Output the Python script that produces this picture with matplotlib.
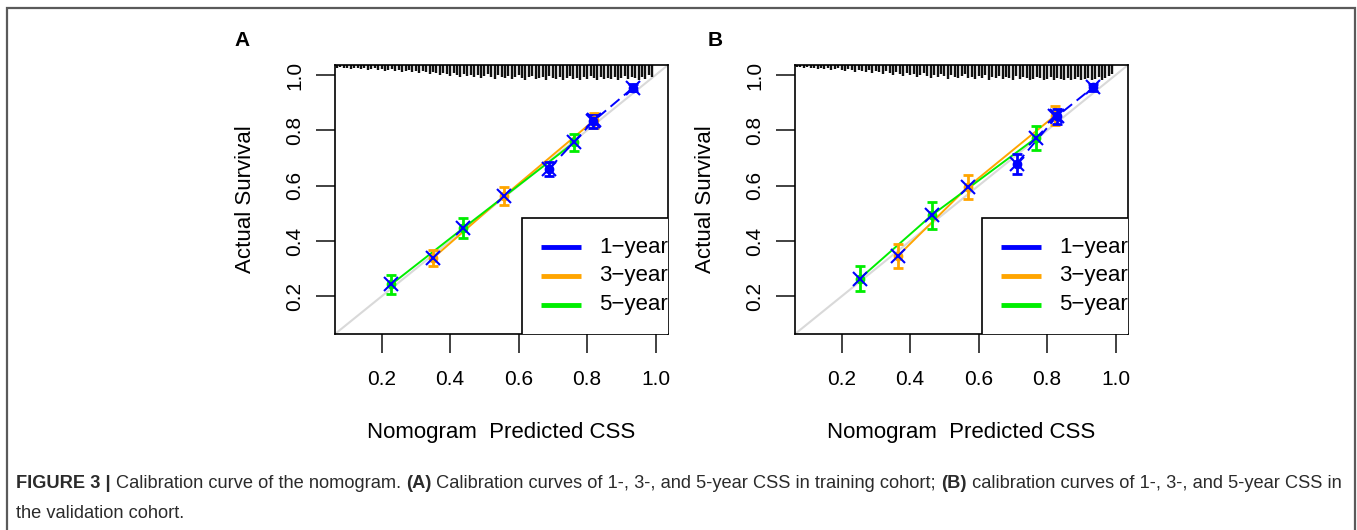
import matplotlib
matplotlib.use("Agg")
import matplotlib.pyplot as plt
import matplotlib.patches as patches
import numpy as np

plt.rcParams['font.family'] = ['Liberation Sans', 'DejaVu Sans']

W, H = 1357, 530

# ---- data ----
# panel A (training cohort)
a_1yr_x = [0.689, 0.817, 0.934]
a_1yr_y = [0.661, 0.832, 0.954]
a_1yr_err = [0.026, 0.024, 0.012]
a_3yr_x = [0.350, 0.558, 0.820]
a_3yr_y = [0.338, 0.563, 0.836]
a_3yr_err = [0.030, 0.033, 0.026]
a_5yr_x = [0.228, 0.439, 0.762]
a_5yr_y = [0.243, 0.447, 0.756]
a_5yr_err = [0.033, 0.037, 0.029]

# panel B (validation cohort)
b_1yr_x = [0.711, 0.828, 0.934]
b_1yr_y = [0.679, 0.850, 0.955]
b_1yr_err = [0.036, 0.028, 0.012]
b_3yr_x = [0.365, 0.568, 0.823]
b_3yr_y = [0.347, 0.595, 0.853]
b_3yr_err = [0.043, 0.045, 0.035]
b_5yr_x = [0.253, 0.463, 0.767]
b_5yr_y = [0.264, 0.493, 0.772]
b_5yr_err = [0.045, 0.049, 0.042]

# rug of predicted values along the top (tick lengths, px), bins 0.07 .. 0.99
a_rug = [3, 2, 3, 3, 4, 3, 3, 4, 3, 5,
         4, 3, 5, 4, 6, 5, 4, 6, 5, 7,
         6, 5, 7, 6, 8, 6, 7, 9, 7, 8,
         10, 8, 9, 11, 8, 10, 12, 9, 11, 10,
         12, 10, 13, 11, 9, 12, 14, 10, 12, 13,
         11, 14, 12, 10, 13, 15, 12, 11, 14, 13,
         12, 15, 11, 13, 14, 12, 15, 13, 11, 14,
         13, 15, 12, 14, 11, 13, 15, 12, 14, 13,
         14, 12, 15, 13, 11, 14, 12, 13, 15, 12,
         14, 10, 12]
b_rug = [2, 2, 3, 2, 3, 3, 4, 3, 4, 3,
         5, 4, 3, 5, 6, 4, 5, 7, 5, 6,
         7, 5, 8, 6, 7, 9, 6, 8, 10, 7,
         9, 11, 8, 10, 9, 12, 10, 8, 11, 13,
         10, 12, 9, 11, 14, 10, 12, 13, 11, 9,
         13, 12, 14, 11, 13, 10, 15, 12, 13, 11,
         14, 12, 13, 15, 11, 14, 12, 13, 15, 14,
         12, 13, 15, 14, 12, 15, 13, 14, 15, 13,
         15, 14, 12, 15, 14, 13, 15, 14, 12, 15,
         13, 11, 9]

legend_labels = ['1\u2212year', '3\u2212year', '5\u2212year']
ticks = [0.2, 0.4, 0.6, 0.8, 1.0]

c1, c3, c5 = '#0000FF', '#FFA500', '#00EE00'


def fx(px):
    return px / W


def fy(py):
    return 1 - py / H


fig = plt.figure(figsize=(W / 100, H / 100), dpi=100)

# outer frame of the figure panel
fig.patches.append(patches.Rectangle((fx(7), fy(560)), fx(1355) - fx(7), fy(8) - fy(560),
                                     transform=fig.transFigure, fill=False,
                                     edgecolor='#5a5a5a', linewidth=1.6))


def draw_panel(left_px, series, rug, label, label_px):
    ax = fig.add_axes([fx(left_px), fy(334), 333 / W, 269 / H])
    lo, hi = 0.064, 1.036
    ax.set_xlim(lo, hi)
    ax.set_ylim(lo, hi)
    ax.plot([lo, hi], [lo, hi], color='#d9d9d9', lw=1.5, zorder=1)

    for (xs, ys, es, col, ls) in series:
        ax.plot(xs, ys, color=col, lw=1.4, ls=ls, zorder=2)
    for (xs, ys, es, col, ls) in series:
        ax.errorbar(xs, ys, yerr=es, fmt='o', color=col, ms=6, capsize=3.5,
                    elinewidth=2, capthick=2, zorder=3)
        ax.plot(xs, ys, 'x', color='#0000FF', ms=10, mew=1.5, zorder=4)

    # rug along the top
    rug_x = np.linspace(0.07, 0.99, len(rug))
    ax.vlines(rug_x, [1 - h / 269 for h in rug], 1, transform=ax.get_xaxis_transform(),
              color='#111111', lw=1.7, zorder=2)

    # legend box (clipped at the right edge like the original)
    rect = patches.Rectangle((0.61, lo - 0.02), 0.6, 0.483 - lo + 0.02, facecolor='white',
                             edgecolor='black', lw=1.2, zorder=5)
    ax.add_patch(rect)
    for i, (lab, col) in enumerate(zip(legend_labels, [c1, c3, c5])):
        yy = 0.378 - i * 0.104
        ax.plot([0.666, 0.782], [yy, yy], color=col, lw=3.5, zorder=6, solid_capstyle='butt')
        ax.text(0.835, yy, lab, fontsize=16, va='center', ha='left', zorder=6, clip_on=True)

    ax.set_xticks(ticks)
    ax.set_yticks(ticks)
    ax.set_xticklabels([f'{t:.1f}' for t in ticks])
    ax.set_yticklabels([f'{t:.1f}' for t in ticks], rotation=90, va='center')
    ax.tick_params(length=14, width=1.3, labelsize=15, pad=12, color='#333333')
    ax.tick_params(axis='y', pad=8)
    for s in ax.spines.values():
        s.set_linewidth(1.2)
    ax.set_xlabel('Nomogram  Predicted CSS', fontsize=16, labelpad=24)
    ax.set_ylabel('Actual Survival', fontsize=16, labelpad=21)

    fig.text(fx(label_px), fy(40), label, fontsize=15, fontweight='bold',
             ha='center', va='center')
    return ax


draw_panel(335,
           [(a_3yr_x, a_3yr_y, a_3yr_err, c3, '-'),
            (a_5yr_x, a_5yr_y, a_5yr_err, c5, '-'),
            (a_1yr_x, a_1yr_y, a_1yr_err, c1, (0, (6, 3)))],
           a_rug, 'A', 242)
draw_panel(795,
           [(b_3yr_x, b_3yr_y, b_3yr_err, c3, '-'),
            (b_5yr_x, b_5yr_y, b_5yr_err, c5, '-'),
            (b_1yr_x, b_1yr_y, b_1yr_err, c1, (0, (6, 3)))],
           b_rug, 'B', 715)

# caption with mixed bold / regular runs
fig.canvas.draw()
renderer = fig.canvas.get_renderer()


def caption_line(pieces, x_px, y_px):
    x = fx(x_px)
    for txt, bold in pieces:
        t = fig.text(x, fy(y_px), txt, fontsize=13.15, color='#2b2b2b',
                     fontweight='bold' if bold else 'normal', va='center', ha='left')
        bb = t.get_window_extent(renderer=renderer)
        x += bb.width / W


caption_line([('FIGURE 3 | ', True), ('Calibration curve of the nomogram. ', False),
              ('(A)', True), (' Calibration curves of 1-, 3-, and 5-year CSS in training cohort; ', False),
              ('(B)', True), (' calibration curves of 1-, 3-, and 5-year CSS in', False)], 16, 484)
caption_line([('the validation cohort.', False)], 16, 513)

fig.savefig('out.png', dpi=100)
